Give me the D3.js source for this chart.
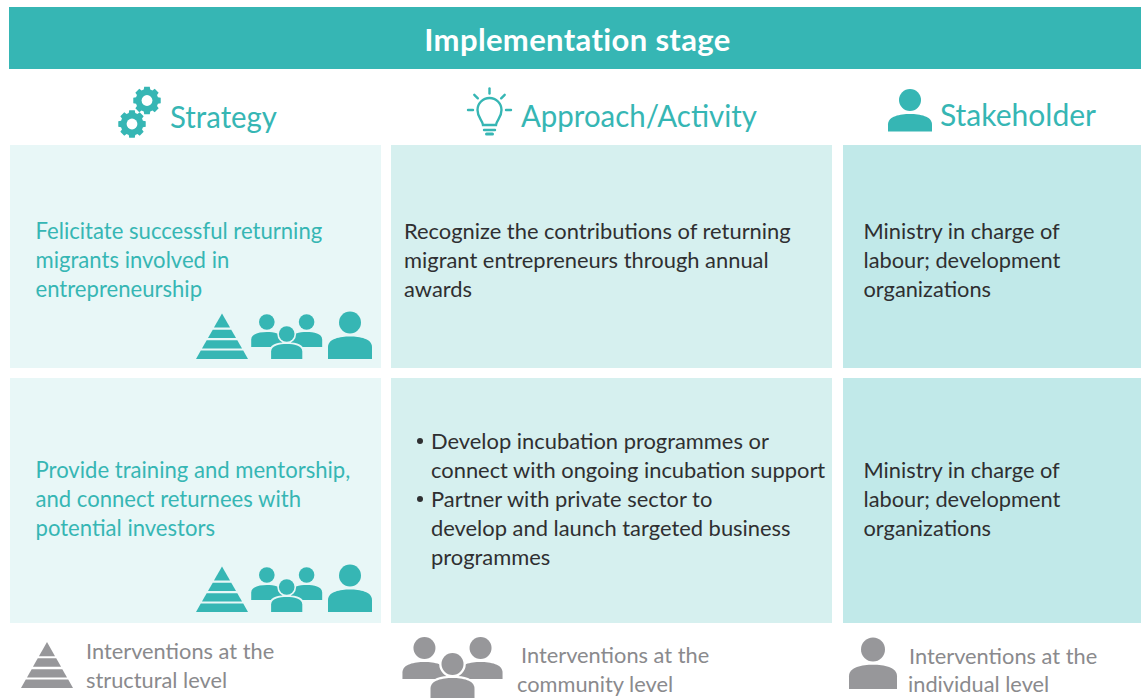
<!DOCTYPE html>
<html>
<head>
<meta charset="utf-8">
<script src="https://d3js.org/d3.v7.min.js"></script>
<style>
  html, body { margin: 0; padding: 0; background: #fff; }
  svg { display: block; }
  text { font-family: Lato, "Open Sans", sans-serif; }
</style>
</head>
<body>
<div id="chart"></div>
<script>
// chart content
var title = "Implementation stage";
var columns = ["Strategy", "Approach/Activity", "Stakeholder"];
var strategies = [
  ["Felicitate successful returning", "migrants involved in", "entrepreneurship"],
  ["Provide training and mentorship,", "and connect returnees with", "potential investors"]
];
var approaches = [
  ["Recognize the contributions of returning", "migrant entrepreneurs through annual", "awards"],
  ["Develop incubation programmes or", "connect with ongoing incubation support", "Partner with private sector to", "develop and launch targeted business", "programmes"]
];
var bulletLines = [0, 2];
var stakeholders = [
  ["Ministry in charge of", "labour; development", "organizations"],
  ["Ministry in charge of", "labour; development", "organizations"]
];
var legendLabels = [
  ["Interventions at the", "structural level"],
  ["Interventions at the", "community level"],
  ["Interventions at the", "individual level"]
];

var svgWidth = 1141;
var svgHeight = 698;

var teal = "#36b6b4";
var grey = "#97979a";
var ink = "#2f2f31";
var colFill = ["#e8f7f7", "#d6f0ef", "#c1e9e9"];

var colX = [10, 391, 843];
var colW = [371, 441, 298];
var rowY = [145, 378];
var rowH = [223, 245];
var lineH = 29;

var svg = d3.select("#chart")
  .append("svg")
  .attr("width", svgWidth)
  .attr("height", svgHeight);

// banner
svg.append("rect")
  .attr("x", 9).attr("y", 7)
  .attr("width", 1132).attr("height", 62)
  .attr("fill", teal);

svg.append("text")
  .attr("x", 577.5).attr("y", 50.5)
  .attr("text-anchor", "middle")
  .attr("font-size", "31px")
  .attr("font-weight", 700)
  .attr("letter-spacing", "0.35px")
  .attr("fill", "#fff")
  .text(title);

// column headers
var headX = [170, 521, 940];
var headY = [128, 127, 125.5];
var headW = [107, 236, 156];
svg.append("g")
  .selectAll("text")
  .data(columns)
  .enter()
  .append("text")
  .attr("x", function(d, i) { return headX[i]; })
  .attr("y", function(d, i) { return headY[i]; })
  .attr("font-size", "30px")
  .attr("textLength", function(d, i) { return headW[i]; })
  .attr("lengthAdjust", "spacingAndGlyphs")
  .attr("fill", teal)
  .text(function(d) { return d; });

// cells
colX.forEach(function(x, c) {
  svg.append("g")
    .selectAll("rect")
    .data(rowY)
    .enter()
    .append("rect")
    .attr("x", x)
    .attr("y", function(d) { return d; })
    .attr("width", colW[c])
    .attr("height", function(d, i) { return rowH[i]; })
    .attr("fill", colFill[c]);
});

function addLines(parent, lines, x, y, size, color) {
  parent.append("g")
    .selectAll("text")
    .data(lines)
    .enter()
    .append("text")
    .attr("x", x)
    .attr("y", function(d, i) { return y + i * lineH; })
    .attr("font-size", size)
    .attr("fill", color)
    .text(function(d) { return d; });
}

var firstLine = [238.5, 477.5];
strategies.forEach(function(lines, r) {
  addLines(svg, lines, 35.5, firstLine[r], "22.1px", teal);
});
addLines(svg, approaches[0], 404, firstLine[0], "21.9px", ink);
addLines(svg, approaches[1], 431, 448.5, "21.9px", ink);
stakeholders.forEach(function(lines, r) {
  addLines(svg, lines, 863.5, firstLine[r], "21.8px", ink);
});

svg.append("g")
  .selectAll("circle")
  .data(bulletLines)
  .enter()
  .append("circle")
  .attr("cx", 420)
  .attr("cy", function(d) { return 441 + d * lineH; })
  .attr("r", 3)
  .attr("fill", ink);

// icons
function person(parent, x, headY, r, bottom, color) {
  var half = r * 2;
  var top = headY + r * 1.28;
  var p = d3.path();
  p.moveTo(x - half, bottom);
  p.lineTo(x - half, top + r * 0.95);
  p.bezierCurveTo(x - half, top + r * 0.2, x - r * 0.9, top, x, top);
  p.bezierCurveTo(x + r * 0.9, top, x + half, top + r * 0.2, x + half, top + r * 0.95);
  p.lineTo(x + half, bottom);
  p.closePath();
  var g = parent.append("g").attr("fill", color);
  g.append("path").attr("d", p.toString());
  g.append("circle").attr("cx", x).attr("cy", headY).attr("r", r);
  return g;
}

function community(parent, x, headY, r, sideBottom, midHeadY, midBottom, color, halo) {
  var dx = r * 2.55;
  person(parent, x - dx, headY, r, sideBottom, color);
  person(parent, x + dx, headY, r, sideBottom, color);
  person(parent, x, midHeadY, r, midBottom, color)
    .attr("stroke", halo)
    .attr("stroke-width", r * 0.42)
    .attr("paint-order", "stroke");
}

function pyramid(parent, x, top, w, h, color) {
  // four tiers split by thin gaps
  var tiers = [[0, 0.31], [0.355, 0.54], [0.59, 0.77], [0.815, 1]];
  parent.append("g")
    .selectAll("path")
    .data(tiers)
    .enter()
    .append("path")
    .attr("fill", color)
    .attr("d", function(d) {
      var p = d3.path();
      p.moveTo(x - w / 2 * d[0], top + h * d[0]);
      p.lineTo(x + w / 2 * d[0], top + h * d[0]);
      p.lineTo(x + w / 2 * d[1], top + h * d[1]);
      p.lineTo(x - w / 2 * d[1], top + h * d[1]);
      p.closePath();
      return p.toString();
    });
}

function gear(parent, x, y, rOut, rIn, hole, color) {
  var teeth = 8;
  var pts = [];
  for (var i = 0; i < teeth; i++) {
    var a = i * 2 * Math.PI / teeth - Math.PI / 2;
    var w = 0.2;
    pts.push([a - w * 1.45, rIn], [a - w, rOut], [a + w, rOut], [a + w * 1.45, rIn]);
  }
  var line = d3.lineRadial()
    .angle(function(d) { return d[0] + Math.PI / 2; })
    .radius(function(d) { return d[1]; })
    .curve(d3.curveLinearClosed);
  var g = parent.append("g").attr("transform", "translate(" + x + "," + y + ")");
  g.append("path").attr("d", line(pts)).attr("fill", color);
  g.append("circle").attr("r", hole).attr("fill", "#fff");
}

function bulb(parent, x, y, color) {
  var g = parent.append("g")
    .attr("fill", "none")
    .attr("stroke", color)
    .attr("stroke-width", 2.4)
    .attr("stroke-linecap", "round");
  var r = 12;
  var p = d3.path();
  p.moveTo(x - 6.5, y + 15);
  p.bezierCurveTo(x - 7, y + 10, x - r, y + 8, x - r, y);
  p.arc(x, y, r, Math.PI, 0);
  p.bezierCurveTo(x + r, y + 8, x + 7, y + 10, x + 6.5, y + 15);
  p.closePath();
  g.append("path").attr("d", p.toString());
  g.append("line").attr("x1", x - 5.5).attr("x2", x + 5.5).attr("y1", y + 20).attr("y2", y + 20);
  g.append("line").attr("x1", x - 3).attr("x2", x + 3).attr("y1", y + 24).attr("y2", y + 24).attr("stroke-width", 3);
  d3.range(5).forEach(function(i) {
    var a = (i - 2) * Math.PI / 4;
    g.append("line")
      .attr("x1", x + Math.sin(a) * 16.5).attr("y1", y - Math.cos(a) * 16.5)
      .attr("x2", x + Math.sin(a) * 21.5).attr("y2", y - Math.cos(a) * 21.5);
  });
}

gear(svg, 147, 100.5, 14, 11.4, 5.4, teal);
gear(svg, 132, 124, 14, 11.4, 5.4, teal);
bulb(svg, 489.5, 110, teal);
person(svg, 910, 100, 11, 131.5, teal);

// level icons in the strategy cells
var iconBottom = [359, 612];
iconBottom.forEach(function(b, r) {
  pyramid(svg, 222, b - 45.5, 52, 45.5, teal);
  community(svg, 286.7, b - 37, 7.8, b - 12, b - 25, b, teal, colFill[0]);
  person(svg, 350, b - 36.5, 11, b, teal);
});

// legend
pyramid(svg, 47, 642, 52, 46, grey);
community(svg, 452.5, 648, 11, 679, 664, 700, grey, "#fff");
person(svg, 873, 649.5, 12, 689, grey);

var legendColor = "#8a8a8d";
addLines(svg, legendLabels[0], 86, 658.5, "21.8px", legendColor);
svg.append("text").attr("x", 521).attr("y", 662.5).attr("font-size", "21.8px").attr("fill", legendColor).text(legendLabels[1][0]);
svg.append("text").attr("x", 517).attr("y", 691.5).attr("font-size", "21.8px").attr("fill", legendColor).text(legendLabels[1][1]);
svg.append("text").attr("x", 909).attr("y", 663.5).attr("font-size", "21.8px").attr("fill", legendColor).text(legendLabels[2][0]);
svg.append("text").attr("x", 908).attr("y", 691.5).attr("font-size", "21.8px").attr("fill", legendColor).text(legendLabels[2][1]);
</script>
</body>
</html>
